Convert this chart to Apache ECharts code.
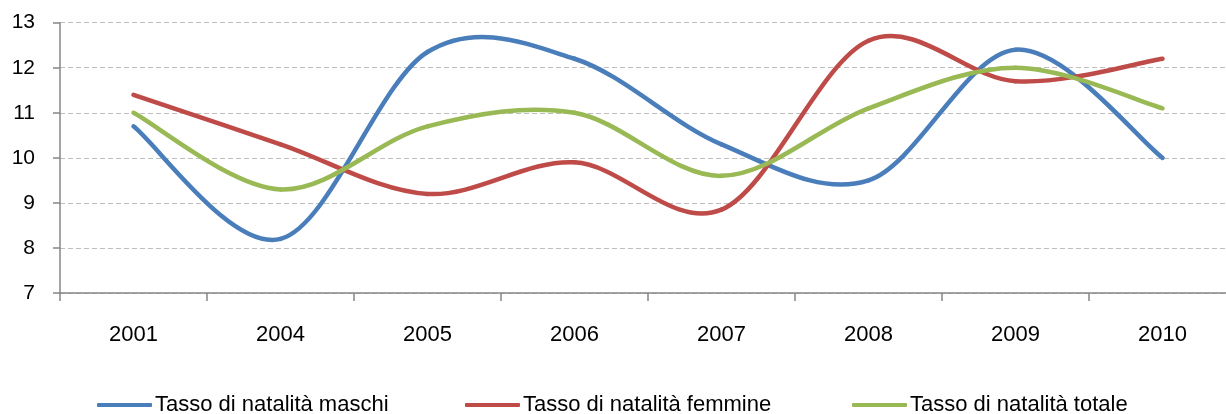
<!DOCTYPE html>
<html>
<head>
<meta charset="utf-8">
<script src="https://cdn.jsdelivr.net/npm/echarts@6/dist/echarts.min.js"></script>
<style>
  html, body { margin: 0; padding: 0; background: #fff; }
  #main { width: 1226px; height: 414px; }
</style>
</head>
<body>
<div id="main"></div>
<script>
var anni = ["2001", "2004", "2005", "2006", "2007", "2008", "2009", "2010"];
var maschi = [10.7, 8.2, 12.35, 12.2, 10.3, 9.5, 12.4, 10.0];
var femmine = [11.4, 10.3, 9.2, 9.9, 8.85, 12.6, 11.7, 12.2];
var totale = [11.0, 9.3, 10.7, 11.0, 9.6, 11.1, 12.0, 11.1];
var nomi = ["Tasso di natalità maschi", "Tasso di natalità femmine", "Tasso di natalità totale"];

var font = "'Liberation Sans', Arial, sans-serif";

var myChart = echarts.init(document.getElementById("main"));

// curva smussata tipo Excel (Catmull-Rom): un tratto di Bezier per ogni coppia di anni
function serie(name, valori, color) {
  return {
    name: name,
    type: "custom",
    coordinateSystem: "cartesian2d",
    data: valori.map(function (v, i) { return [i, v]; }),
    encode: { x: 0, y: 1 },
    itemStyle: { color: color },
    renderItem: function (params, api) {
      var i = params.dataIndex;
      var n = valori.length;
      if (i >= n - 1) return null;
      var p = function (j) {
        j = Math.max(0, Math.min(n - 1, j));
        return api.coord([j, valori[j]]);
      };
      var p0 = p(i - 1), p1 = p(i), p2 = p(i + 1), p3 = p(i + 2);
      return {
        type: "bezierCurve",
        shape: {
          x1: p1[0], y1: p1[1],
          x2: p2[0], y2: p2[1],
          cpx1: p1[0] + (p2[0] - p0[0]) / 6, cpy1: p1[1] + (p2[1] - p0[1]) / 6,
          cpx2: p2[0] - (p3[0] - p1[0]) / 6, cpy2: p2[1] - (p3[1] - p1[1]) / 6
        },
        style: { stroke: color, lineWidth: 4.5, fill: null, lineCap: "round" }
      };
    }
  };
}

// una legenda per voce, come nel grafico Excel
function legenda(nome, left) {
  return {
    top: 389,
    left: left,
    itemWidth: 55,
    itemHeight: 4,
    icon: "roundRect",
    textStyle: { fontFamily: font, fontSize: 22, color: "#000", padding: [0, 0, 0, -2] },
    data: [nome]
  };
}

myChart.setOption({
  animation: false,
  grid: { left: 60, width: 1176, top: 22.7, bottom: 121, outerBoundsMode: "none" },
  legend: [legenda(nomi[0], 92), legenda(nomi[1], 460), legenda(nomi[2], 847)],
  xAxis: {
    type: "category",
    data: anni,
    boundaryGap: true,
    axisLine: { lineStyle: { color: "#868686", width: 1.5 } },
    axisTick: { show: true, length: 8, lineStyle: { color: "#868686", width: 1.5 } },
    axisLabel: { fontFamily: font, fontSize: 22, color: "#000", margin: 31 }
  },
  yAxis: {
    type: "value",
    min: 7,
    max: 13,
    interval: 1,
    axisLine: { show: true, lineStyle: { color: "#868686", width: 1.5 } },
    axisTick: { show: true, length: 7, lineStyle: { color: "#868686", width: 1.5 } },
    axisLabel: { fontFamily: font, fontSize: 21, color: "#000", margin: 25 },
    splitLine: { lineStyle: { color: "#BFBFBF", type: [5, 3], width: 1.2 } }
  },
  series: [
    serie(nomi[0], maschi, "#4A7EBB"),
    serie(nomi[1], femmine, "#BE4B48"),
    serie(nomi[2], totale, "#98B954")
  ]
});
</script>
</body>
</html>
